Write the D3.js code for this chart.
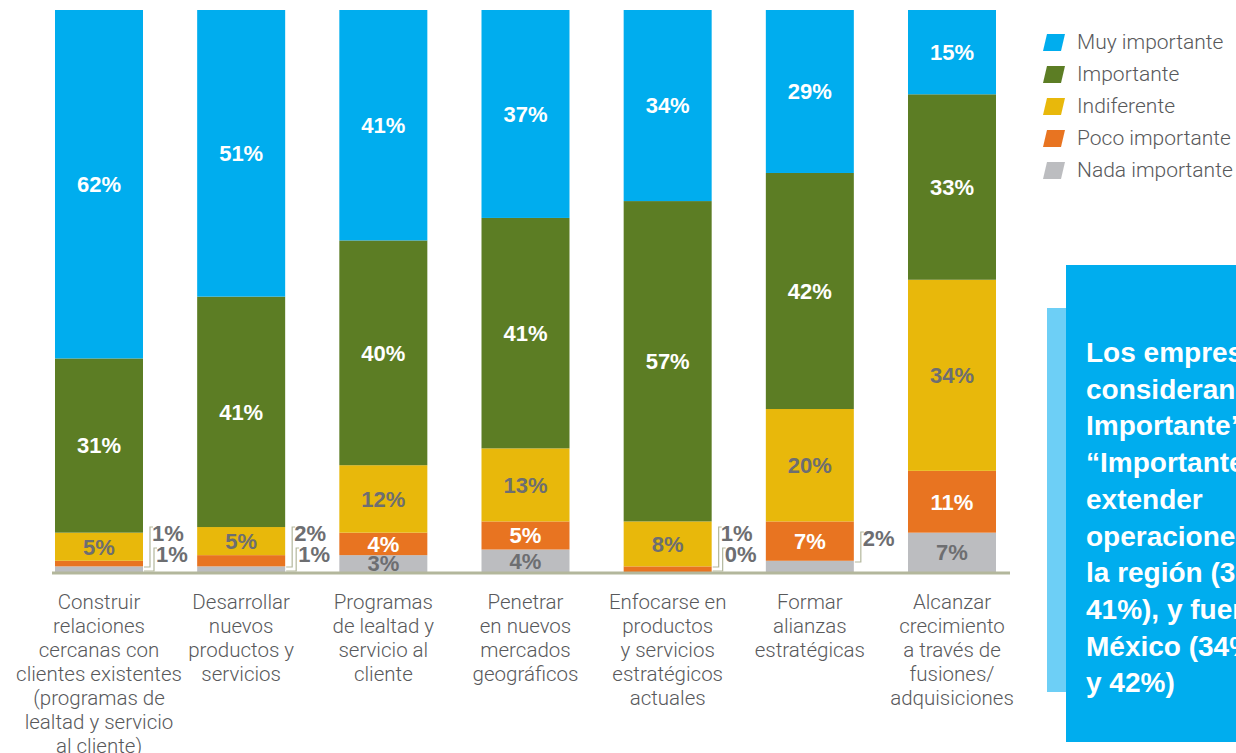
<!DOCTYPE html>
<html><head><meta charset="utf-8">
<script src="https://cdn.jsdelivr.net/npm/d3@7"></script>
<style>
html,body{margin:0;padding:0;background:#fff;}
svg{display:block;}
</style>
</head><body>
<svg id="chart" width="1236" height="753"></svg>
<script>
const categories = [
  ["Construir","relaciones","cercanas con","clientes existentes","(programas de","lealtad y servicio","al cliente)"],
  ["Desarrollar","nuevos","productos y","servicios"],
  ["Programas","de lealtad y","servicio al","cliente"],
  ["Penetrar","en nuevos","mercados","geográficos"],
  ["Enfocarse en","productos","y servicios","estratégicos","actuales"],
  ["Formar","alianzas","estratégicas"],
  ["Alcanzar","crecimiento","a través de","fusiones/","adquisiciones"]
];
const seriesNames = ["Nada importante","Poco importante","Indiferente","Importante","Muy importante"];
const nada       = [1, 1, 3, 4, 0, 2, 7];
const poco       = [1, 2, 4, 5, 1, 7, 11];
const indiferente= [5, 5, 12, 13, 8, 20, 34];
const importante = [31, 41, 40, 41, 57, 42, 33];
const muy        = [62, 51, 41, 37, 34, 29, 15];
const legendOrder = ["Muy importante","Importante","Indiferente","Poco importante","Nada importante"];
const calloutText = ["Los empresarios","consideran “Muy","Importante” e","“Importante”","extender","operaciones en","la región (37% y","41%), y fuera de","México (34%","y 42%)"];
</script>
<script>
const colors = {
  "Muy importante":"#00adee",
  "Importante":"#5c7d24",
  "Indiferente":"#e8b80b",
  "Poco importante":"#e87421",
  "Nada importante":"#bcbdc0"
};
const labelColor = {
  "Muy importante":"#ffffff",
  "Importante":"#ffffff",
  "Indiferente":"#6d6e71",
  "Poco importante":"#ffffff",
  "Nada importante":"#6d6e71"
};
const valuesBySeries = {
  "Nada importante":nada,
  "Poco importante":poco,
  "Indiferente":indiferente,
  "Importante":importante,
  "Muy importante":muy
};
const rows = categories.map((c,i)=>{
  const o = {key:i};
  seriesNames.forEach(s=>o[s]=valuesBySeries[s][i]);
  return o;
});
const stack = d3.stack().keys(seriesNames)(rows);

const svg = d3.select("#chart");
const x = d3.scaleBand().domain(d3.range(categories.length)).range([55,996]).paddingInner(0.381).paddingOuter(0);
const y = d3.scaleLinear().domain([0,100]).range([572,10]);
const boldFont = "'Liberation Sans', Arial, sans-serif";
const lightFont = "Roboto, 'Liberation Sans', sans-serif";

// bars
const g = svg.append("g");
stack.forEach(layer=>{
  g.selectAll(null).data(layer).join("rect")
    .attr("x",d=>x(d.data.key))
    .attr("width",x.bandwidth())
    .attr("y",d=>y(d[1]))
    .attr("height",d=>Math.max(0,y(d[0])-y(d[1])))
    .attr("fill",colors[layer.key]);
});

// axis baseline
svg.append("line")
  .attr("x1",x.range()[0]-3).attr("x2",x.range()[1]+14)
  .attr("y1",y(0)+1).attr("y2",y(0)+1)
  .attr("stroke","#b3b79c").attr("stroke-width",3);

// inside labels
stack.forEach(layer=>{
  layer.forEach(d=>{
    const v = d[1]-d[0];
    if (v < 3) return;
    svg.append("text")
      .attr("x",x(d.data.key)+x.bandwidth()/2)
      .attr("y",(y(d[0])+y(d[1]))/2)
      .attr("dy","0.36em")
      .attr("text-anchor","middle")
      .attr("font-family",boldFont)
      .attr("font-weight","bold")
      .attr("font-size",22)
      .attr("fill",labelColor[layer.key])
      .text(v+"%");
  });
});

// outside labels with brackets
categories.forEach((c,i)=>{
  const small = [];
  ["Poco importante","Nada importante"].forEach(s=>{
    const v = valuesBySeries[s][i];
    if (v < 3) small.push({s,v});
  });
  if (!small.length) return;
  const right = x(i)+x.bandwidth();
  const n = small.length;
  small.forEach((o,k)=>{
    let cy, yb, xv;
    if (n===2){
      cy = k===0 ? y(0)-39 : y(0)-18;
      yb = k===0 ? y(0)-5 : y(0)-1;
      xv = k===0 ? right+7 : right+11;
    } else {
      cy = y(0)-34; yb = y(0)-10; xv = right+7;
    }
    const yt = cy-6;
    svg.append("path")
      .attr("d",`M${right+1},${yb}H${xv}V${yt}H${xv+3}`)
      .attr("fill","none").attr("stroke","#b3b79c").attr("stroke-width",1.2);
    svg.append("text")
      .attr("x",xv+2)
      .attr("y",cy)
      .attr("dy","0.36em")
      .attr("font-family",boldFont)
      .attr("font-weight","bold")
      .attr("font-size",22)
      .attr("fill","#6d6e71")
      .text(o.v+"%");
  });
});

// category labels
categories.forEach((lines,i)=>{
  const t = svg.append("text")
    .attr("text-anchor","middle")
    .attr("font-family",lightFont)
    .attr("font-weight",300)
    .attr("font-size",20.5)
    .attr("fill","#58595b");
  lines.forEach((l,j)=>{
    t.append("tspan").attr("x",x(i)+x.bandwidth()/2).attr("y",609+j*24).text(l);
  });
});

// legend
const lg = svg.append("g").attr("transform","translate(1043,34)");
legendOrder.forEach((s,i)=>{
  const yy = i*32;
  lg.append("path")
    .attr("d",`M4,${yy}H22L18,${yy+17}H0Z`)
    .attr("fill",colors[s]);
  lg.append("text")
    .attr("x",34).attr("y",yy+15)
    .attr("font-family",lightFont)
    .attr("font-weight",300)
    .attr("font-size",21)
    .attr("fill","#58595b")
    .text(s);
});

// callout box
svg.append("rect").attr("x",1047).attr("y",308).attr("width",40).attr("height",384).attr("fill","#6dcff6");
svg.append("rect").attr("x",1066).attr("y",265).attr("width",200).attr("height",477).attr("fill","#00adee");
const ct = svg.append("text")
  .attr("font-family",boldFont)
  .attr("font-weight","bold")
  .attr("font-size",28)
  .attr("fill","#ffffff");
calloutText.forEach((l,j)=>{
  ct.append("tspan").attr("x",1086).attr("y",362+j*36.7).text(l);
});
</script>
</body></html>
